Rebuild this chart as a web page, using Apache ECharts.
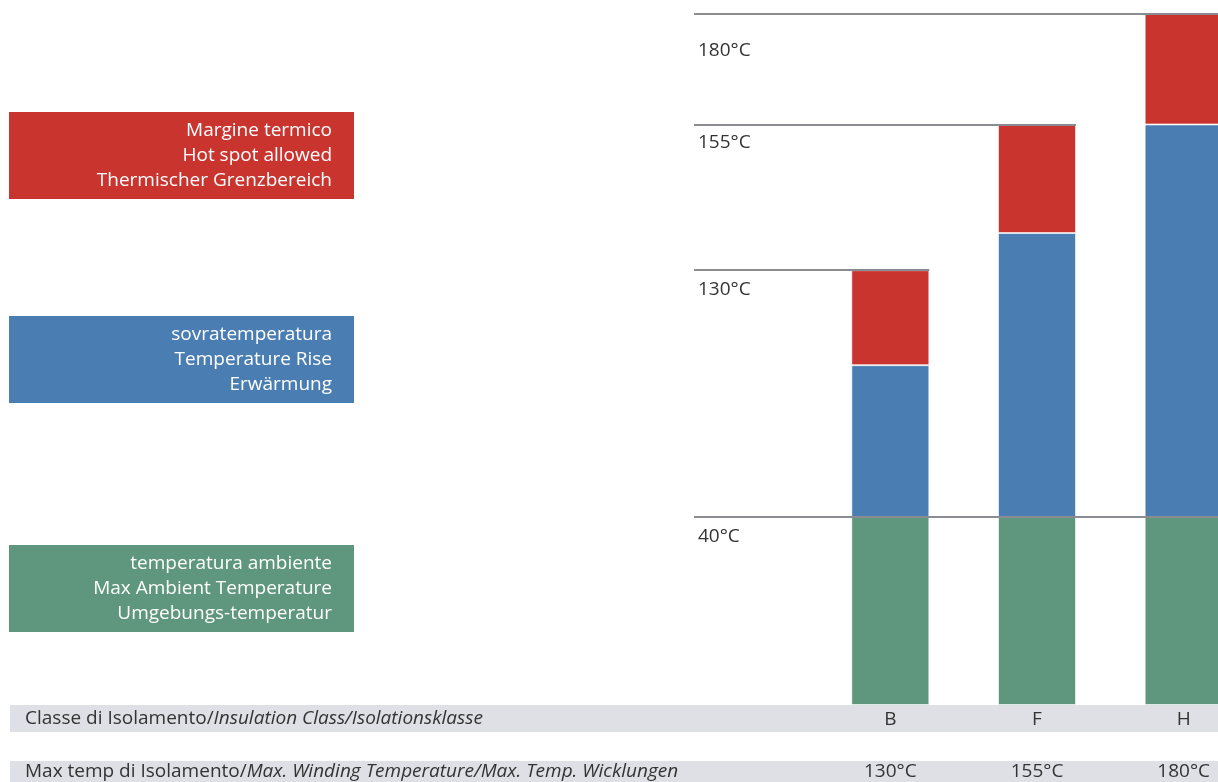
<!DOCTYPE html>
<html>
<head>
<meta charset="utf-8">
<script src="https://cdn.jsdelivr.net/npm/echarts@6/dist/echarts.min.js"></script>
<style>
  html, body { margin: 0; padding: 0; background: #fff; }
  #chart { width: 1218px; height: 782px; }
</style>
</head>
<body>
<div id="chart"></div>
<script>
// schematic heights (drawing is not to scale)
const categories = ['B', 'F', 'H']
const ambient = [40, 40, 40]
const rise = [32.3, 60.4, 83.5]
const margin = [20.2, 23.0, 23.5]
const maxTempLabels = ['130°C', '155°C', '180°C']
const ambientLabel = '40°C'

const seriesNames = [
  ['Margine termico', 'Hot spot allowed', 'Thermischer Grenzbereich'],
  ['sovratemperatura', 'Temperature Rise', 'Erwärmung'],
  ['temperatura ambiente', 'Max Ambient Temperature', 'Umgebungs-temperatur']
]
const rowTitles = [
  ['Classe di Isolamento/', 'Insulation Class/Isolationsklasse'],
  ['Max temp di Isolamento/', 'Max. Winding Temperature/Max. Temp. Wicklungen']
]

const RED = '#C9342F'
const BLUE = '#4A7DB1'
const GREEN = '#5E967E'
const LINE = '#8A8C91'
const BAND = '#DFE0E5'
const TEXT = '#333'
const FONT = '"Open Sans", sans-serif'
const FS = 19
const BAR_W = 78

const totals = categories.map((c, i) => ambient[i] + rise[i] + margin[i])

// threshold lines: [category where line ends, value]
const thresholds = [
  [categories.length - 1, ambient[0]],
  ...categories.map((c, i) => [i, totals[i]])
]
const thresholdLabels = [ambientLabel, ...maxTempLabels]
const labelOffset = [20, 20, 18, 37]

var myChart = echarts.init(document.getElementById('chart'))

function legendBox(y, color, lines) {
  return {
    type: 'group',
    children: [
      { type: 'rect', shape: { x: 9, y: y, width: 345, height: 87 }, style: { fill: color } },
      {
        type: 'text',
        style: {
          x: 332, y: y + 44, text: lines.join('\n'), fill: '#fff',
          font: FS + 'px ' + FONT, lineHeight: 25, align: 'right', verticalAlign: 'middle'
        }
      }
    ]
  }
}

function rowTitle(y, parts) {
  return {
    type: 'text',
    style: {
      x: 25, y: y, text: '{n|' + parts[0] + '}{i|' + parts[1] + '}',
      verticalAlign: 'middle',
      rich: {
        n: { fontFamily: FONT, fontSize: FS, fill: TEXT, color: TEXT },
        i: { fontFamily: FONT, fontSize: FS, fontStyle: 'italic', fill: TEXT, color: TEXT }
      }
    }
  }
}

var option = {
  animation: false,
  grid: { left: 817, width: 440, top: 14, bottom: 77, outerBoundsMode: 'none', containLabel: false },
  xAxis: [
    {
      type: 'category',
      data: categories,
      axisLine: { show: false },
      axisTick: { show: false },
      axisLabel: { margin: 5, lineHeight: 20, fontSize: FS, fontFamily: FONT, color: TEXT }
    },
    {
      type: 'category',
      data: maxTempLabels,
      position: 'bottom',
      axisLine: { show: false },
      axisTick: { show: false },
      axisLabel: { margin: 57, lineHeight: 20, fontSize: FS, fontFamily: FONT, color: TEXT }
    }
  ],
  yAxis: {
    type: 'value',
    min: 0,
    max: Math.max(...totals),
    show: false,
    splitLine: { show: false }
  },
  graphic: [
    { type: 'rect', z: -10, shape: { x: 10, y: 705, width: 1208, height: 27 }, style: { fill: BAND } },
    { type: 'rect', z: -10, shape: { x: 10, y: 761, width: 1208, height: 25 }, style: { fill: BAND } },
    rowTitle(719, rowTitles[0]),
    rowTitle(772, rowTitles[1]),
    legendBox(112, RED, seriesNames[0]),
    legendBox(316, BLUE, seriesNames[1]),
    legendBox(545, GREEN, seriesNames[2])
  ],
  series: [
    {
      name: seriesNames[2][0], type: 'bar', stack: 'temp', data: ambient, barWidth: BAR_W,
      itemStyle: { color: GREEN, borderColor: 'rgba(255,255,255,0.6)', borderWidth: 1 }
    },
    {
      name: seriesNames[1][0], type: 'bar', stack: 'temp', data: rise, barWidth: BAR_W,
      itemStyle: { color: BLUE, borderColor: 'rgba(255,255,255,0.6)', borderWidth: 1 }
    },
    {
      name: seriesNames[0][0], type: 'bar', stack: 'temp', data: margin, barWidth: BAR_W,
      itemStyle: { color: RED, borderColor: 'rgba(255,255,255,0.6)', borderWidth: 1 }
    },
    {
      type: 'custom',
      z: 10,
      clip: false,
      data: thresholds,
      renderItem: function (params, api) {
        var p = api.coord([api.value(0), api.value(1)])
        var y = Math.round(p[1])
        return {
          type: 'group',
          children: [
            {
              type: 'line',
              shape: { x1: 694, y1: y, x2: p[0] + BAR_W / 2, y2: y },
              style: { stroke: LINE, lineWidth: 2 }
            },
            {
              type: 'text',
              style: {
                x: 698, y: y + labelOffset[params.dataIndex],
                text: thresholdLabels[params.dataIndex],
                font: FS + 'px ' + FONT, fill: TEXT, verticalAlign: 'middle'
              }
            }
          ]
        }
      }
    }
  ]
}

option && myChart.setOption(option)
</script>
</body>
</html>
